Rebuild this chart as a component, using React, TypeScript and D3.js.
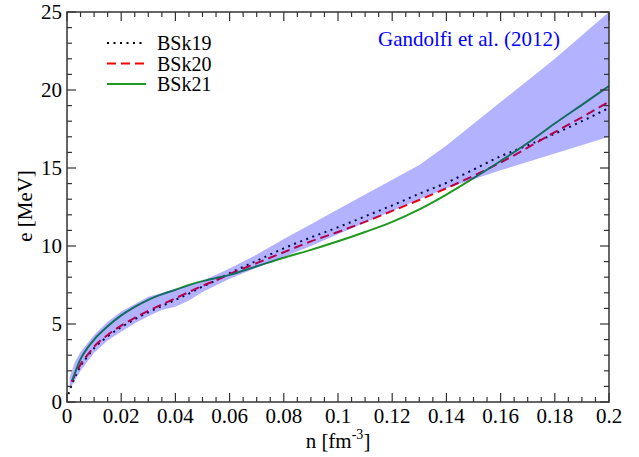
import React from "react";
import * as d3 from "d3";

// BSk19 (dotted)
const bsk19N = [0.0005, 0.002, 0.005, 0.0075, 0.01, 0.015, 0.02, 0.025, 0.03, 0.035, 0.04, 0.045, 0.05, 0.055, 0.06, 0.07, 0.08, 0.09, 0.1, 0.11, 0.12, 0.13, 0.14, 0.15, 0.16, 0.17, 0.18, 0.19, 0.2];
const bsk19E = [0.5, 1.2, 2.3, 2.9, 3.45, 4.2, 4.8, 5.3, 5.75, 6.15, 6.55, 6.95, 7.4, 7.8, 8.25, 9.05, 9.85, 10.55, 11.2, 11.9, 12.6, 13.35, 14.05, 14.9, 15.75, 16.45, 17.2, 18.0, 18.85];

// BSk20 (dashed)
const bsk20N = [0.0017, 0.005, 0.0075, 0.01, 0.015, 0.02, 0.025, 0.03, 0.035, 0.04, 0.045, 0.05, 0.055, 0.06, 0.07, 0.08, 0.09, 0.1, 0.11, 0.12, 0.13, 0.14, 0.15, 0.16, 0.17, 0.18, 0.19, 0.2];
const bsk20E = [1.3, 2.4, 3.0, 3.55, 4.3, 4.9, 5.4, 5.85, 6.25, 6.65, 7.05, 7.45, 7.8, 8.2, 8.9, 9.6, 10.3, 10.9, 11.55, 12.25, 12.95, 13.7, 14.5, 15.35, 16.3, 17.3, 18.25, 19.25];

// BSk21 (solid)
const bsk21N = [0.002, 0.005, 0.0075, 0.01, 0.015, 0.02, 0.025, 0.03, 0.035, 0.04, 0.045, 0.05, 0.055, 0.06, 0.07, 0.08, 0.09, 0.1, 0.11, 0.12, 0.13, 0.14, 0.15, 0.16, 0.17, 0.18, 0.19, 0.2];
const bsk21E = [1.4, 2.75, 3.45, 4.0, 4.85, 5.55, 6.1, 6.55, 6.9, 7.2, 7.5, 7.75, 7.95, 8.15, 8.7, 9.25, 9.75, 10.3, 10.9, 11.55, 12.35, 13.3, 14.35, 15.45, 16.6, 17.85, 19.05, 20.25];

// Gandolfi et al. (2012) band edges
const bandUpperN = [0.001, 0.003, 0.005, 0.01, 0.015, 0.02, 0.03, 0.04, 0.05, 0.06, 0.07, 0.08, 0.09, 0.1, 0.11, 0.12, 0.13, 0.14, 0.18, 0.2];
const bandUpperE = [1.6, 2.6, 3.2, 4.3, 5.15, 5.8, 6.75, 7.25, 7.75, 8.55, 9.45, 10.45, 11.4, 12.35, 13.3, 14.25, 15.2, 16.45, 22.0, 25.0];
const bandLowerN = [0.001, 0.005, 0.01, 0.015, 0.02, 0.025, 0.03, 0.035, 0.04, 0.045, 0.05, 0.06, 0.07, 0.08, 0.09, 0.1, 0.11, 0.12, 0.13, 0.14, 0.16, 0.2];
const bandLowerE = [0.8, 2.0, 3.15, 3.95, 4.5, 5.05, 5.5, 5.9, 6.1, 6.5, 7.05, 7.9, 8.6, 9.3, 10.0, 10.75, 11.5, 12.25, 13.0, 13.7, 14.85, 17.0];

const xTickValues = [0, 0.02, 0.04, 0.06, 0.08, 0.1, 0.12, 0.14, 0.16, 0.18, 0.2];
const xTickLabels = ["0", "0.02", "0.04", "0.06", "0.08", "0.1", "0.12", "0.14", "0.16", "0.18", "0.2"];
const yTickValues = [0, 5, 10, 15, 20, 25];
const yTickLabels = ["0", "5", "10", "15", "20", "25"];

const seriesNames = ["BSk19", "BSk20", "BSk21"];
const bandLabel = "Gandolfi et al. (2012)";

const W = 639;
const H = 457;
const margin = { left: 67, top: 12, right: 30, bottom: 55 };
const serif: React.CSSProperties = { fontFamily: '"Liberation Serif"' };

export default function App() {
  const x = d3.scaleLinear().domain([0, 0.2]).range([margin.left, W - margin.right]);
  const y = d3.scaleLinear().domain([0, 25]).range([H - margin.bottom, margin.top]);
  const x0 = x(0), x1 = x(0.2), y0 = y(0), y1 = y(25);

  const pts = (ns: number[], es: number[]) => ns.map((n, i) => [n, es[i]] as [number, number]);
  const line = d3
    .line<[number, number]>()
    .x((d) => x(d[0]))
    .y((d) => y(d[1]))
    .curve(d3.curveMonotoneX);

  const bandPts = [...pts(bandUpperN, bandUpperE), ...pts(bandLowerN, bandLowerE).reverse()];
  const bandPath =
    d3
      .line<[number, number]>()
      .x((d) => x(d[0]))
      .y((d) => y(d[1]))(bandPts) + "Z";

  const series = [
    { name: seriesNames[0], d: line(pts(bsk19N, bsk19E)), color: "#000000", dash: "2,4.5" },
    { name: seriesNames[1], d: line(pts(bsk20N, bsk20E)), color: "#ff0000", dash: "9,5" },
    { name: seriesNames[2], d: line(pts(bsk21N, bsk21E)), color: "#1f9a1f", dash: undefined },
  ];

  const xMinor = d3.range(0, 0.2001, 0.005);
  const yMinor = d3.range(0, 25.001, 1);
  const majLen = 9;
  const minLen = 5;
  const axisColor = "#333";

  return (
    <svg width={W} height={H} style={{ position: "absolute", left: 0, top: 0, background: "#fff" }}>
      <defs>
        <clipPath id="plotArea">
          <rect x={x0} y={y1} width={x1 - x0} height={y0 - y1} />
        </clipPath>
      </defs>
      <rect width={W} height={H} fill="#fff" />

      {/* curves, with the translucent band laid over them */}
      <g clipPath="url(#plotArea)">
        {series.map((s) => (
          <path key={s.name} d={s.d || ""} fill="none" stroke={s.color} strokeWidth={2} strokeDasharray={s.dash} />
        ))}
        <path d={bandPath} fill="#0000ff" fillOpacity={0.3} stroke="none" />
      </g>

      {/* ticks on all four sides */}
      <g stroke={axisColor} strokeWidth={1.2}>
        {xMinor.map((v, i) => {
          const len = i % 4 === 0 ? majLen : minLen;
          return (
            <g key={"xt" + i}>
              <line x1={x(v)} x2={x(v)} y1={y0} y2={y0 - len} />
              <line x1={x(v)} x2={x(v)} y1={y1} y2={y1 + len} />
            </g>
          );
        })}
        {yMinor.map((v, i) => {
          const len = i % 5 === 0 ? majLen : minLen;
          return (
            <g key={"yt" + i}>
              <line x1={x0} x2={x0 + len} y1={y(v)} y2={y(v)} />
              <line x1={x1} x2={x1 - len} y1={y(v)} y2={y(v)} />
            </g>
          );
        })}
      </g>
      <rect x={x0} y={y1} width={x1 - x0} height={y0 - y1} fill="none" stroke={axisColor} strokeWidth={1.5} />

      {/* tick labels */}
      <g fontSize={21} fill="#000">
        {xTickValues.map((v, i) => (
          <text key={"xl" + i} x={x(v)} y={y0 + 21} textAnchor="middle" style={serif}>
            {xTickLabels[i]}
          </text>
        ))}
        {yTickValues.map((v, i) => (
          <text key={"yl" + i} x={x0 - 5} y={y(v) + 7} textAnchor="end" style={serif}>
            {yTickLabels[i]}
          </text>
        ))}
      </g>

      {/* axis titles */}
      <text x={338} y={448} textAnchor="middle" fontSize={21} style={serif}>
        n [fm
        <tspan fontSize={14} dy={-9}>-3</tspan>
        <tspan dy={9}>]</tspan>
      </text>
      <text transform="translate(32,206) rotate(-90)" textAnchor="middle" fontSize={21} style={serif}>
        e [MeV]
      </text>

      {/* legend */}
      {series.map((s, i) => {
        const ly = 43 + i * 20.5;
        return (
          <g key={"lg" + s.name}>
            <line x1={107} x2={146} y1={ly} y2={ly} stroke={s.color} strokeWidth={2} strokeDasharray={s.dash} />
            <text x={157} y={ly + 7} fontSize={20} style={serif}>
              {s.name}
            </text>
          </g>
        );
      })}
      <text x={378} y={46} fontSize={21} fill="#0000ff" style={serif}>
        {bandLabel}
      </text>
    </svg>
  );
}
